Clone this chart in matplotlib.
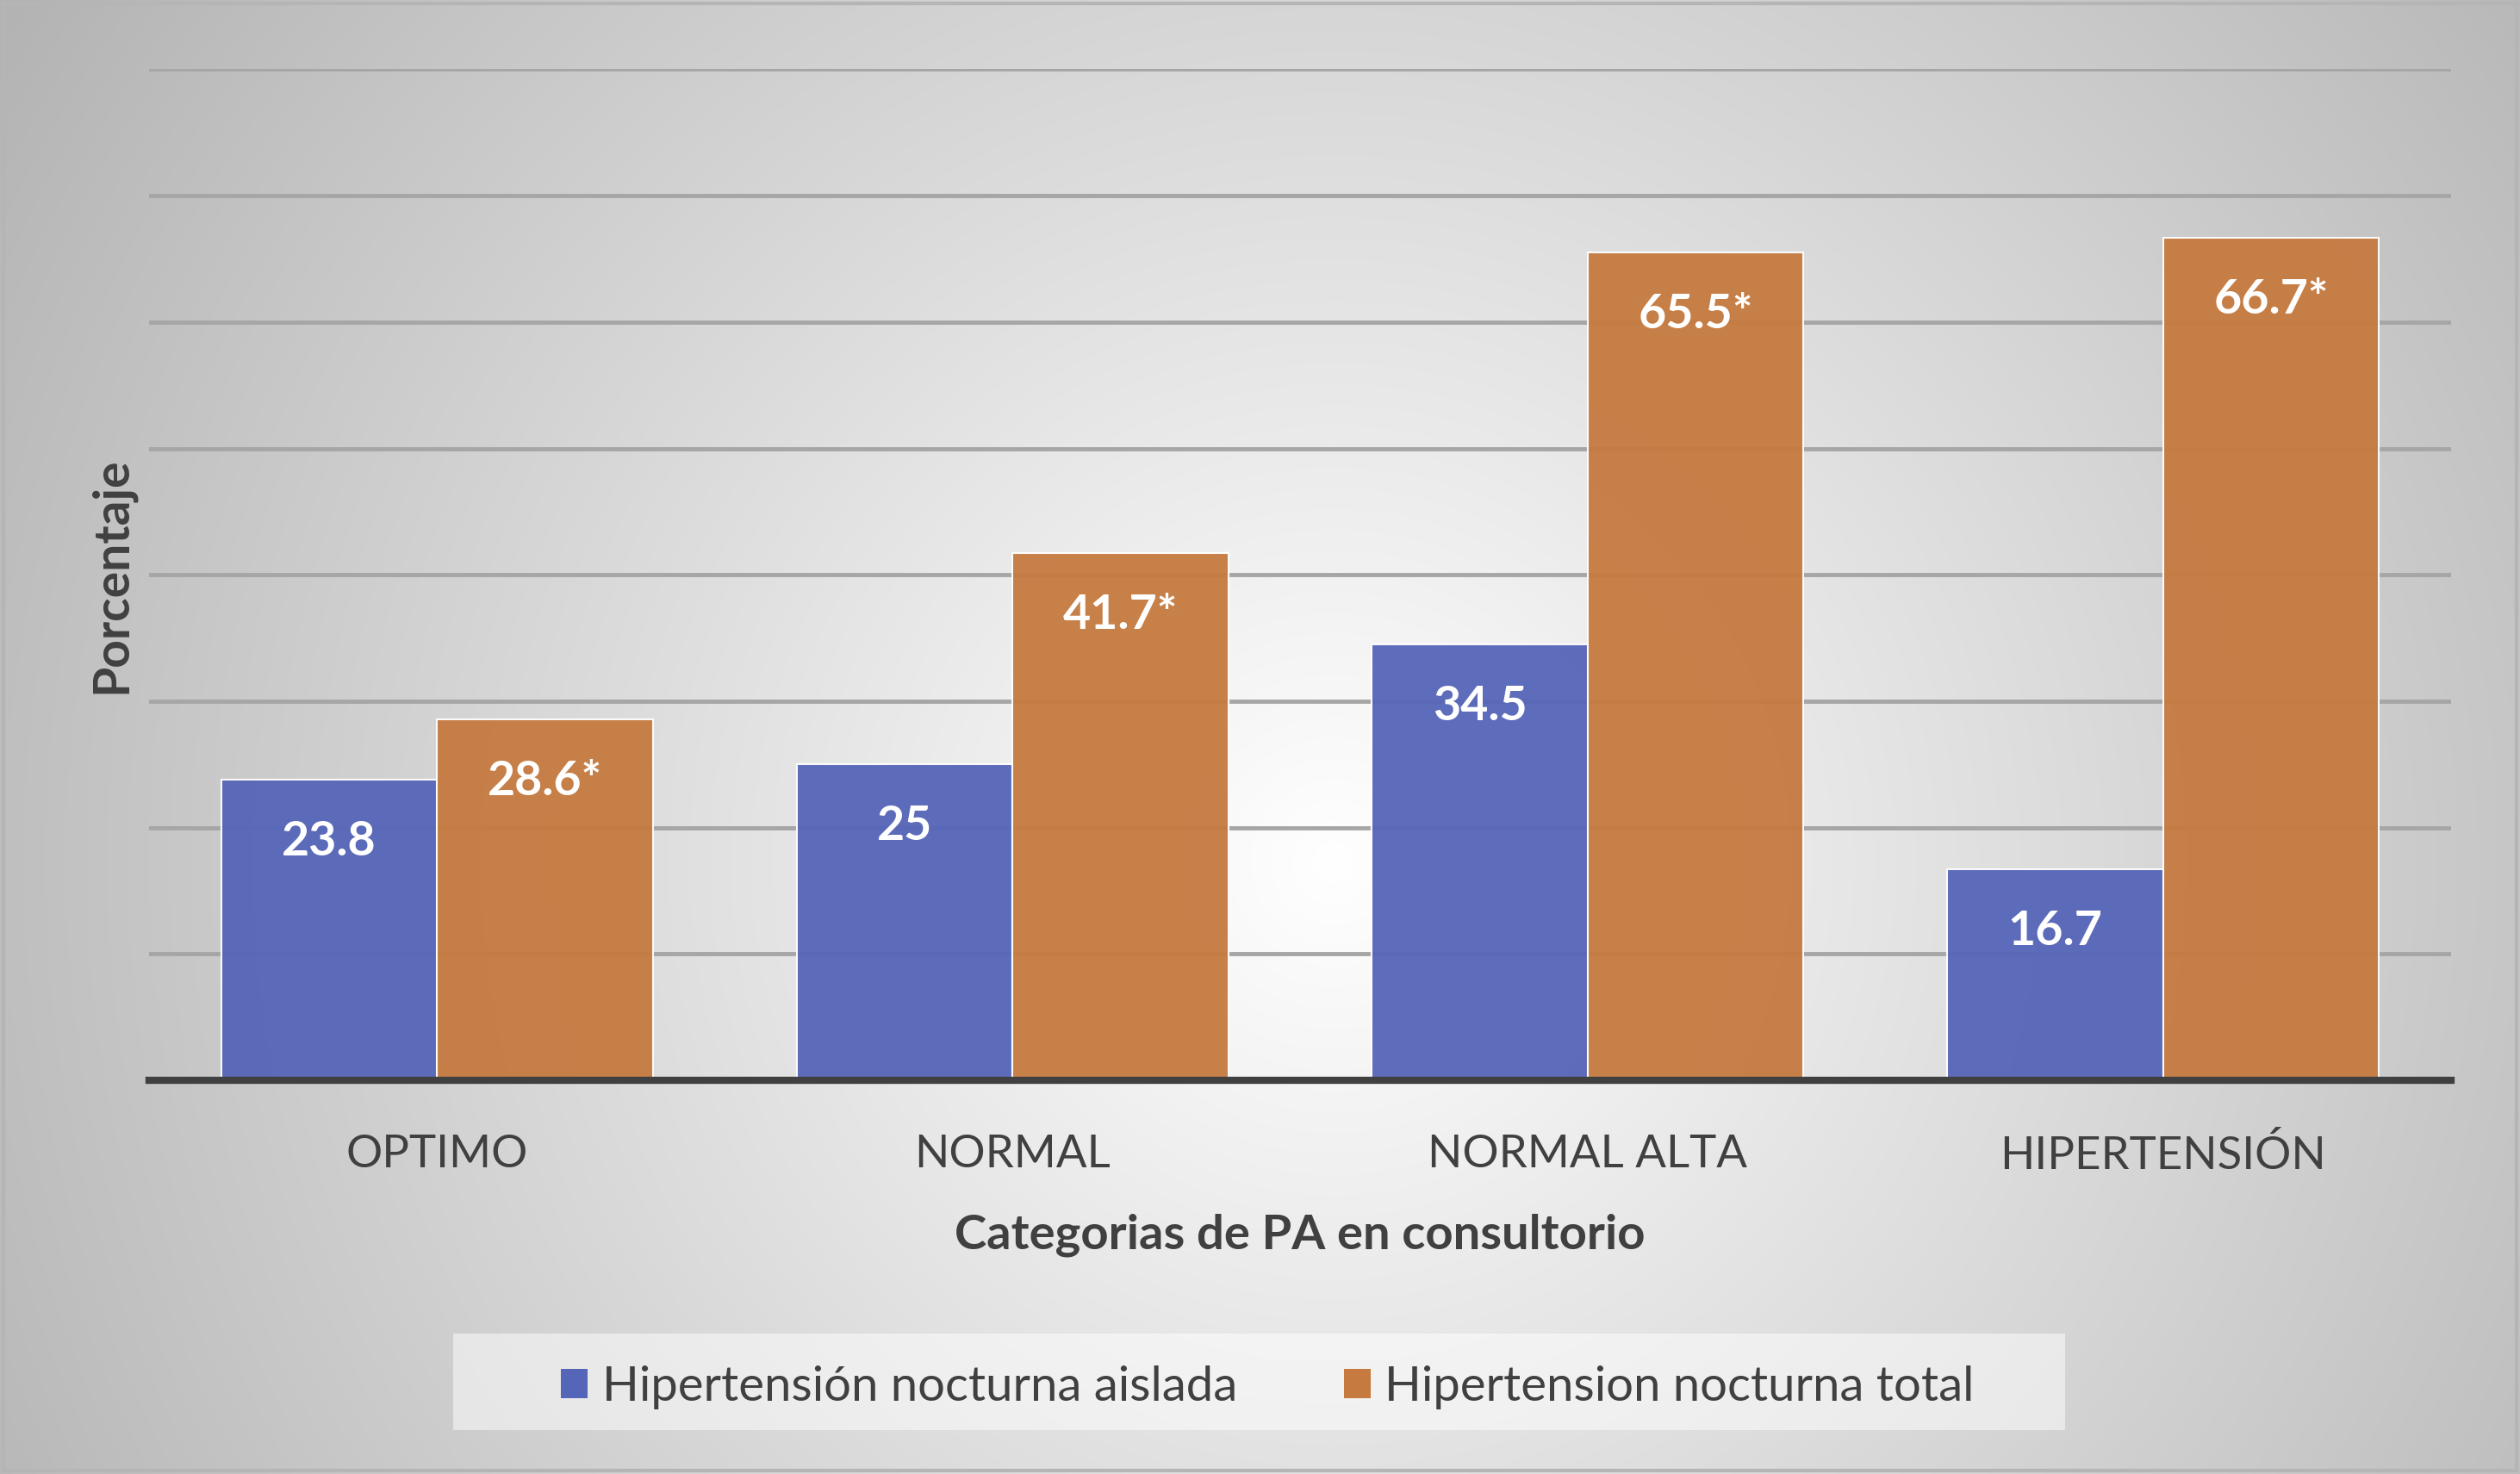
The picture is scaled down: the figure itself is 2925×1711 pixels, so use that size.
import numpy as np
import matplotlib
matplotlib.use("Agg")
import matplotlib.pyplot as plt
from matplotlib.patches import Patch, Rectangle

plt.rcParams['font.family'] = ['Lato', 'DejaVu Sans']

# --------------------------------------------------------------------------- #
categories = ['OPTIMO', 'NORMAL', 'NORMAL ALTA', 'HIPERTENSIÓN']
aislada = [23.8, 25.0, 34.5, 16.7]
total = [28.6, 41.7, 65.5, 66.7]
aislada_labels = ['23.8', '25', '34.5', '16.7']
total_labels = ['28.6*', '41.7*', '65.5*', '66.7*']
series_names = ['Hipertensión nocturna aislada', 'Hipertension nocturna total']

blue = '#5565B8'
orange = '#C67A40'
txt = '#404040'

W, H = 2925, 1711
fig = plt.figure(figsize=(W / 100, H / 100), dpi=100)

# radial grey background
bg = fig.add_axes([0, 0, 1, 1], zorder=-10)
yy, xx = np.mgrid[0:H:4, 0:W:4]
cx, cy = 1548, 1000
d = np.sqrt((xx - cx) ** 2 + (yy - cy) ** 2) / 1910.0
val = 1 - 0.31 * np.clip(d, 0, 1)
img = np.dstack([val, val, val])
bg.imshow(img, extent=(0, W, H, 0), aspect='auto', interpolation='bilinear')
bg.add_patch(Rectangle((4, 4), W - 8, H - 8, fill=False, ec='#B5B5B5', lw=3))
bg.set_xlim(0, W)
bg.set_ylim(H, 0)
bg.axis('off')

ax = fig.add_axes([0.0592, 0.267, 0.9134, 0.686])
ax.set_facecolor('none')

x = np.arange(len(categories))
bw = 0.375
b1 = ax.bar(x - bw / 2, aislada, bw, color=blue, alpha=0.95, edgecolor='white', linewidth=1.5, zorder=3)
b2 = ax.bar(x + bw / 2, total, bw, color=orange, alpha=0.95, edgecolor='white', linewidth=1.5, zorder=3)

for bars, labs in [(b1, aislada_labels), (b2, total_labels)]:
    for r, lab in zip(bars, labs):
        ax.annotate(lab, (r.get_x() + r.get_width() / 2, r.get_height()),
                    xytext=(0, -72), textcoords='offset pixels',
                    ha='center', va='center', color='white',
                    fontsize=40, fontweight='bold', zorder=5)

ax.set_xlim(-0.5, 3.5)
ax.set_ylim(0, 80)
ax.set_yticks(np.arange(10, 81, 10))
ax.yaxis.grid(True, color='#A6A6A6', lw=3.5, zorder=0)
ax.tick_params(axis='y', left=False, labelleft=False)
ax.set_xticks(x)
ax.set_xticklabels(categories, fontsize=38, color=txt)
ax.tick_params(axis='x', length=0, pad=45)
for s in ['top', 'right', 'left']:
    ax.spines[s].set_visible(False)
ax.spines['bottom'].set_color('#404040')
ax.spines['bottom'].set_linewidth(6)
ax.spines['bottom'].set_zorder(4)

ax.set_xlabel('Categorias de PA en consultorio', fontsize=40.5, fontweight='bold', color=txt, labelpad=31)
ax.set_ylabel('Porcentaje', fontsize=41, fontweight='bold', color=txt, labelpad=12)

# legend
fig.patches.append(Rectangle((0.1798, 0.0298), 0.6397, 0.0655, transform=fig.transFigure,
                             facecolor='white', alpha=0.5, edgecolor='none', zorder=1))
handles = [Patch(facecolor=blue), Patch(facecolor=orange)]
fig.legend(handles, series_names, loc='center', bbox_to_anchor=(0.503, 0.059), ncol=2,
           frameon=False, fontsize=40.5, handlelength=0.55, handleheight=0.55,
           handletextpad=0.3, columnspacing=2.2, labelcolor=txt)

fig.savefig('out.png', dpi=100)
